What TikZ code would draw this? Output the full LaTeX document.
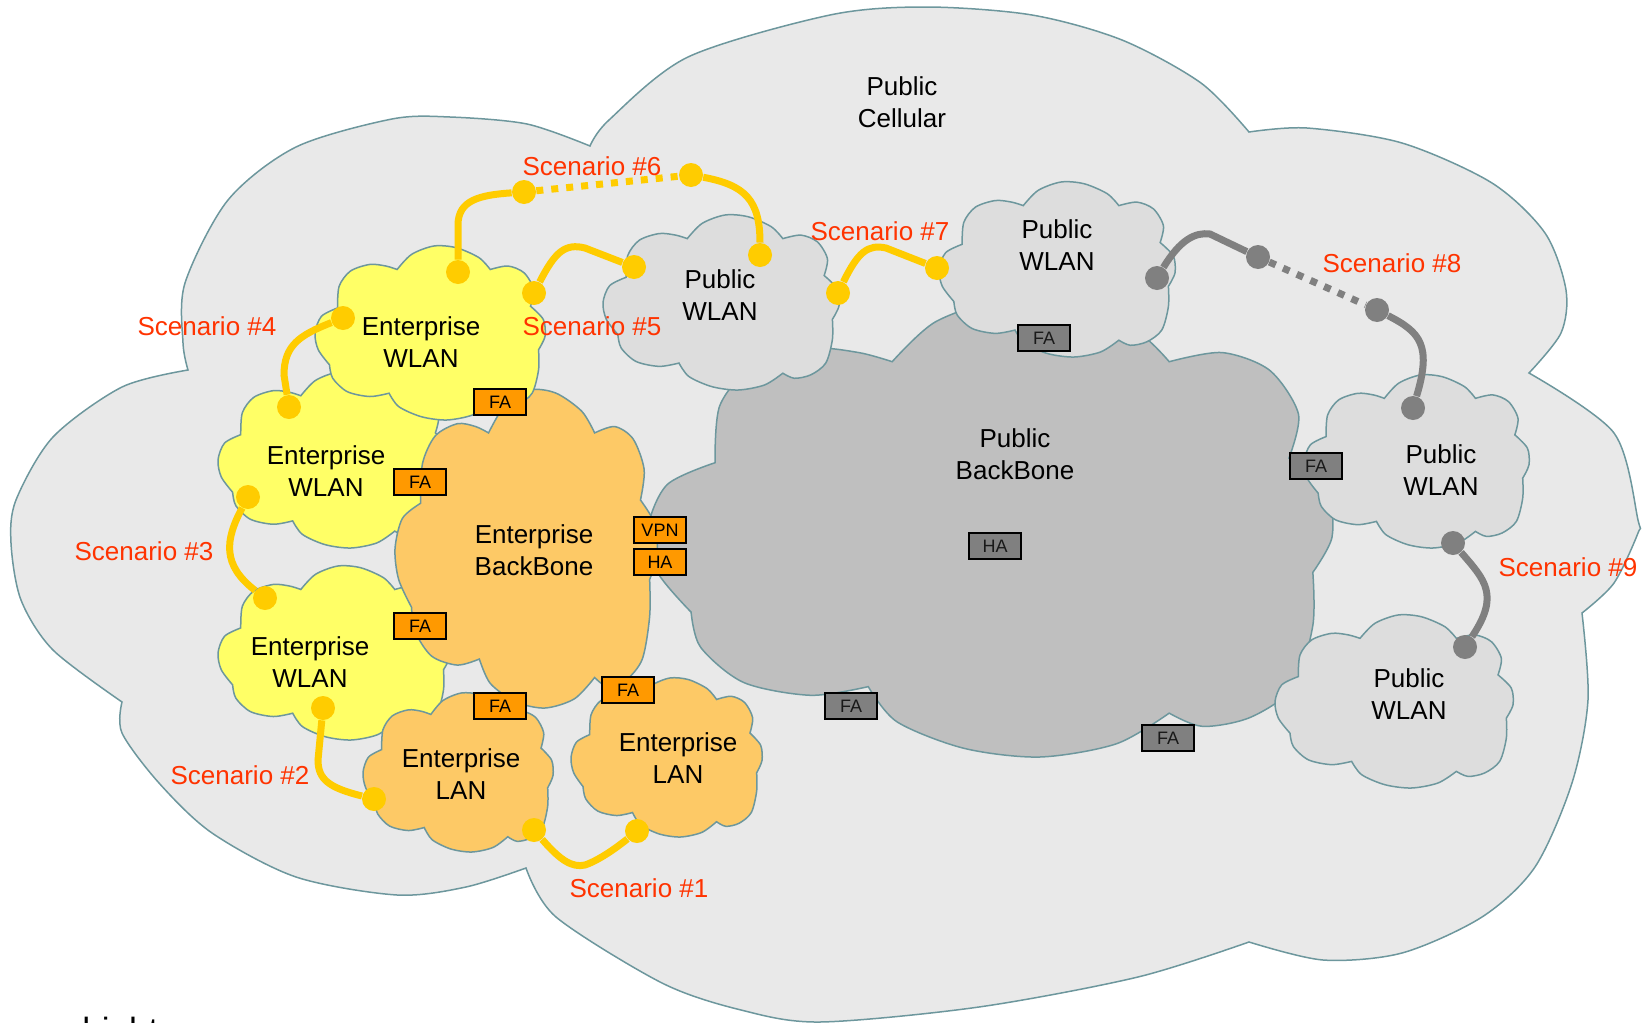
\documentclass[tikz,border=0pt]{standalone}
\usepackage{fontspec}
\setmainfont{Liberation Sans}
\definecolor{outerfill}{HTML}{E9E9E9}
\definecolor{cloudedge}{HTML}{6D979D}
\definecolor{wlanpub}{HTML}{DDDDDD}
\definecolor{backpub}{HTML}{BFBFBF}
\definecolor{entyellow}{HTML}{FFFF66}
\definecolor{entorange}{HTML}{FDC966}
\definecolor{faorange}{HTML}{FF9900}
\definecolor{fagray}{HTML}{808080}
\definecolor{scenyellow}{HTML}{FFCC00}
\definecolor{scengray}{HTML}{808080}
\definecolor{scenred}{HTML}{FF3300}
\tikzset{
  cloudline/.style={draw=cloudedge, line width=0.75pt},
  lbl/.style={font=\fontsize{13}{16}\selectfont, align=center, text=black, inner sep=0pt},
  scen/.style={font=\fontsize{13}{16}\selectfont, text=scenred, inner sep=0pt},
  fao/.style={draw=black, line width=0.9pt, fill=faorange, minimum width=26pt, minimum height=13pt, inner sep=0pt, font=\fontsize{9}{10}\selectfont},
  fag/.style={fao, fill=fagray, text=black!90},
  ydot/.style={circle, fill=scenyellow, minimum size=12pt, inner sep=0pt},
  gdot/.style={circle, fill=scengray, minimum size=12pt, inner sep=0pt},
  yline/.style={draw=scenyellow, line width=3.5pt},
  gline/.style={draw=scengray, line width=3.5pt},
  ydash/.style={draw=scenyellow, line width=3.5pt, dash pattern=on 3.5pt off 4pt},
  gdash/.style={draw=scengray, line width=3.5pt, dash pattern=on 3.5pt off 4pt},
}
% cloud with eight puffs placed in box (left, top, right, bottom), fill
\newcommand\pcloud[5]{%
  \pgfmathsetmacro\pcW{(#3-#1)/100}%
  \pgfmathsetmacro\pcH{(#4-#2)/100}%
  \begin{scope}[shift={(#1,#2)}, xscale=\pcW, yscale=\pcH]
    \filldraw[cloudline, fill=#5] (9.8,35.6)
      -- plot[smooth] coordinates {(9.8,35.6) (10.5,23.1) (15.4,14.4) (23.8,10.6) (30.8,11.5) (35.7,13.5)}
      -- plot[smooth] coordinates {(35.7,13.5) (42,4.8) (51.7,0) (61.5,1) (71.3,6.7) (76.2,13.5)}
      -- plot[smooth] coordinates {(76.2,13.5) (83.9,11.5) (90.9,15.4) (95.1,25) (93.7,34.6)}
      -- plot[smooth] coordinates {(93.7,34.6) (99.3,42.3) (100,51.9) (97.2,59.6)}
      -- plot[smooth] coordinates {(97.2,59.6) (97.2,71.2) (94.4,84.6) (88.1,91.3) (81.1,93.3) (76.2,90.4)}
      -- plot[smooth] coordinates {(76.2,90.4) (68.5,97.1) (57.3,100) (46.2,98.1) (36.4,92.3) (32.2,84.6)}
      -- plot[smooth] coordinates {(32.2,84.6) (23.8,86.5) (14,83.7) (7.7,76) (6.3,68.3)}
      -- plot[smooth] coordinates {(6.3,68.3) (1.4,59.6) (0,50) (2.8,40.4) (9.8,35.6)}
      -- cycle;
  \end{scope}}
\begin{document}
\begin{tikzpicture}[x=0.5pt, y=-0.5pt]
\useasboundingbox (0,0) rectangle (1651,1023);

% outer "Public Cellular" cloud
\filldraw[cloudline, fill=outerfill] (590,146)
  -- plot[smooth] coordinates {(590,146) (609,120) (688,57) (830,15) (926,7) (1032,15) (1122,40) (1201,83) (1249,132)}
  -- plot[smooth] coordinates {(1249,132) (1307,128) (1402,143) (1492,183) (1545,233) (1566,290) (1561,333) (1529,373)}
  -- plot[smooth] coordinates {(1529,373) (1614,433) (1638,520) (1638,533) (1614,583) (1582,613)}
  -- plot[smooth] coordinates {(1582,613) (1588,700) (1572,783) (1535,867) (1482,917) (1402,953) (1323,960) (1249,942)}
  -- plot[smooth] coordinates {(1249,942) (1138,977) (979,1007) (820,1022) (741,1010) (662,983) (556,917) (526,868)}
  -- plot[smooth] coordinates {(526,868) (466,887) (397,895) (296,877) (212,833) (159,783) (122,733) (122,702)}
  -- plot[smooth] coordinates {(122,702) (53,650) (21,600) (11,543) (16,500) (53,437) (122,387) (188,370)}
  -- plot[smooth] coordinates {(188,370) (183,343) (185,283) (228,200) (296,147) (392,119) (450,117) (527,124) (590,146)}
  -- cycle;

% inner clouds
\pcloud{648}{300}{1332}{757}{backpub}
\pcloud{939}{182}{1175}{357}{wlanpub}
\pcloud{1304}{375}{1529}{548}{wlanpub}
\pcloud{1275}{615}{1513}{788}{wlanpub}
\pcloud{218}{372}{450}{548}{entyellow}
\pcloud{218}{566}{450}{740}{entyellow}
\pcloud{395}{390}{657}{708}{entorange}
\pcloud{315}{246}{545}{420}{entyellow}
\pcloud{363}{693}{553}{852}{entorange}
\pcloud{571}{678}{762}{837}{entorange}
\pcloud{603}{215}{839}{390}{wlanpub}

% cloud labels
\node[lbl] (cell) at (902,102) {Public\\Cellular};
\node[lbl] (ewlan1) at (421,342) {Enterprise\\WLAN};
\node[lbl] (ewlan2) at (326,471) {Enterprise\\WLAN};
\node[lbl] (ewlan3) at (310,662) {Enterprise\\WLAN};
\node[lbl] (ebb) at (534,550) {Enterprise\\BackBone};
\node[lbl] (elan1) at (461,774) {Enterprise\\LAN};
\node[lbl] (elan2) at (678,758) {Enterprise\\LAN};
\node[lbl] (pwlan1) at (720,295) {Public\\WLAN};
\node[lbl] (pwlan2) at (1057,245) {Public\\WLAN};
\node[lbl] (pbb) at (1015,454) {Public\\BackBone};
\node[lbl] (pwlan3) at (1441,470) {Public\\WLAN};
\node[lbl] (pwlan4) at (1409,694) {Public\\WLAN};

% agent boxes
\node[fao] (fa1) at (500,402) {FA};
\node[fao] (fa2) at (420,482) {FA};
\node[fao] (fa3) at (420,626) {FA};
\node[fao] (fa4) at (500,706) {FA};
\node[fao] (fa5) at (628,690) {FA};
\node[fao] (vpn) at (660,530) {VPN};
\node[fao] (ha1) at (660,562) {HA};
\node[fag] (fa6) at (1044,338) {FA};
\node[fag] (ha2) at (995,546) {HA};
\node[fag] (fa7) at (1316,466) {FA};
\node[fag] (fa8) at (851,706) {FA};
\node[fag] (fa9) at (1168,738) {FA};

% scenario dots
\node[ydot] (d6a) at (458,272) {};
\node[ydot] (d6b) at (524,192) {};
\node[ydot] (d6c) at (691,175) {};
\node[ydot] (d6d) at (760,255) {};
\node[ydot] (d5a) at (534,293) {};
\node[ydot] (d5b) at (634,267) {};
\node[ydot] (d7a) at (838,293) {};
\node[ydot] (d7b) at (937,268) {};
\node[gdot] (d8a) at (1157,278) {};
\node[gdot] (d8b) at (1258,257) {};
\node[gdot] (d8c) at (1377,310) {};
\node[gdot] (d8d) at (1413,408) {};
\node[gdot] (d9a) at (1453,543) {};
\node[gdot] (d9b) at (1465,647) {};
\node[ydot] (d4a) at (343,318) {};
\node[ydot] (d4b) at (289,407) {};
\node[ydot] (d3a) at (248,497) {};
\node[ydot] (d3b) at (265,598) {};
\node[ydot] (d2a) at (323,708) {};
\node[ydot] (d2b) at (374,799) {};
\node[ydot] (d1a) at (534,830) {};
\node[ydot] (d1b) at (637,831) {};

% scenario connectors
\draw[yline] (d6a) -- (458,225) .. controls (458,200) and (480,195) .. (d6b);
\draw[ydash] (d6b) -- (d6c);
\draw[yline] (d6c) .. controls (745,185) and (760,200) .. (d6d);
\draw[yline] (d5a) .. controls (555,252) and (565,243) .. (585,248) -- (d5b);
\draw[yline] (d7a) .. controls (858,252) and (868,244) .. (886,248) -- (d7b);
\draw[gline] (d8a) .. controls (1180,240) and (1195,232) .. (1210,234) -- (d8b);
\draw[gdash] (d8b) -- (d8c);
\draw[gline] (d8c) .. controls (1420,332) and (1432,345) .. (d8d);
\draw[gline] (d9a) .. controls (1485,580) and (1500,595) .. (d9b);
\draw[yline] (d4a) .. controls (300,335) and (284,345) .. (284,375) -- (d4b);
\draw[yline] (d3a) .. controls (225,540) and (222,565) .. (d3b);
\draw[yline] (d2a) -- (318,760) .. controls (318,780) and (330,788) .. (d2b);
\draw[yline] (d1a) .. controls (560,860) and (572,868) .. (585,865) .. controls (600,860) and (620,845) .. (d1b);

% scenario labels
\node[scen] (s1) at (639,888) {Scenario \#1};
\node[scen] (s2) at (240,775) {Scenario \#2};
\node[scen] (s3) at (144,551) {Scenario \#3};
\node[scen] (s4) at (207,326) {Scenario \#4};
\node[scen] (s5) at (592,326) {Scenario \#5};
\node[scen] (s6) at (592,166) {Scenario \#6};
\node[scen] (s7) at (880,231) {Scenario \#7};
\node[scen] (s8) at (1392,263) {Scenario \#8};
\node[scen] (s9) at (1568,567) {Scenario \#9};

% cut-off text at the bottom edge, as in the reference
\node[anchor=base west, inner sep=0pt, font=\fontsize{17.5}{20}\selectfont] (cut) at (82,1042) {hight};
\end{tikzpicture}
\end{document}
